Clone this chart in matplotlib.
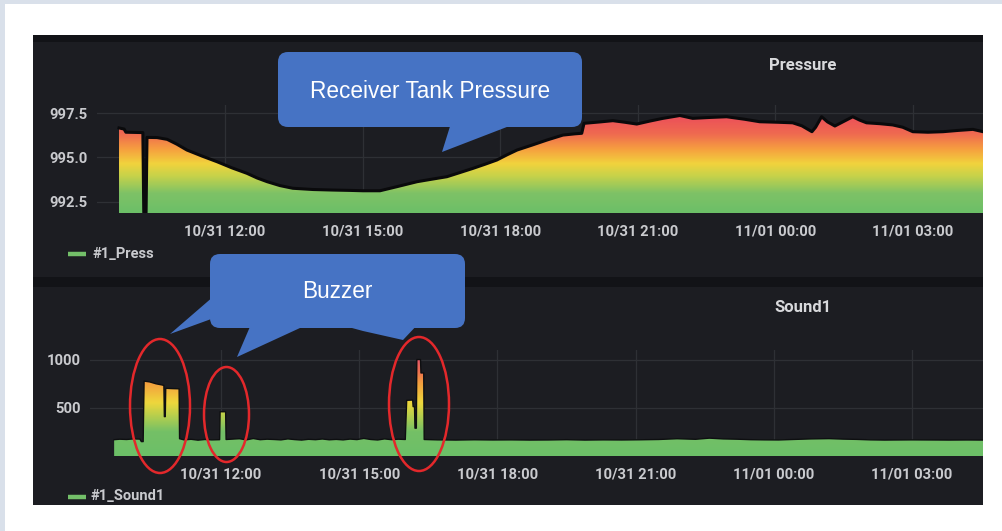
import numpy as np
import matplotlib
matplotlib.use("Agg")
import matplotlib.pyplot as plt
from matplotlib.colors import LinearSegmentedColormap, Normalize
from matplotlib.patches import FancyBboxPatch, Polygon, Ellipse, Rectangle

W, H = 1002, 531

# ---- data: hours since 10/31 00:00 ----
press_hours = [9.69, 9.80, 9.84, 10.21, 10.23, 10.28, 10.30, 10.52, 10.74, 10.95,
               11.17, 11.50, 11.83, 12.15, 12.48, 12.70, 12.92, 13.20, 13.48, 13.92,
               14.35, 14.73, 15.01, 15.38, 15.75, 15.97, 16.19, 16.51, 16.84, 17.12,
               17.41, 17.67, 17.93, 18.15, 18.37, 18.70, 19.02, 19.37, 19.63, 19.78,
               19.83, 20.18, 20.46, 20.72, 20.98, 21.27, 21.55, 21.92, 22.20, 22.57,
               22.94, 23.33, 23.66, 24.06, 24.38, 24.58, 24.80, 24.88, 25.01, 25.14,
               25.30, 25.51, 25.69, 25.84, 25.99, 26.28, 26.56, 26.78, 27.00, 27.33,
               27.66, 27.98, 28.31, 28.53]
press_values = [996.66, 996.60, 996.42, 996.40, 991.90, 991.90, 996.13, 996.12, 996.02, 995.75,
                995.42, 995.08, 994.76, 994.42, 994.11, 993.85, 993.64, 993.42, 993.27, 993.20,
                993.17, 993.15, 993.13, 993.13, 993.36, 993.50, 993.64, 993.78, 993.92, 994.15,
                994.39, 994.62, 994.86, 995.15, 995.42, 995.70, 995.98, 996.26, 996.33, 996.36,
                996.92, 997.00, 997.07, 996.98, 996.88, 997.05, 997.20, 997.36, 997.20, 997.25,
                997.29, 997.15, 997.01, 996.98, 996.95, 996.78, 996.45, 996.70, 997.29, 997.00,
                996.77, 997.05, 997.29, 997.10, 996.95, 996.90, 996.83, 996.70, 996.45, 996.42,
                996.45, 996.52, 996.58, 996.45]

sound_hours = [9.68, 9.80, 9.95, 10.10, 10.24, 10.27, 10.31, 10.33, 10.45, 10.59,
               10.72, 10.76, 10.77, 10.79, 10.80, 10.95, 11.09, 11.10, 11.20, 11.35,
               11.50, 11.65, 11.80, 11.97, 11.98, 12.10, 12.11, 12.25, 12.40, 12.55,
               12.70, 12.85, 13.00, 13.15, 13.30, 13.45, 13.60, 13.75, 13.90, 14.05,
               14.20, 14.35, 14.50, 14.65, 14.80, 14.95, 15.10, 15.25, 15.40, 15.55,
               15.70, 15.85, 16.00, 16.03, 16.16, 16.17, 16.20, 16.21, 16.24, 16.25,
               16.33, 16.34, 16.40, 16.41, 16.70, 17.10, 17.50, 17.90, 18.30, 18.70,
               19.10, 19.50, 19.90, 20.30, 20.70, 21.10, 21.50, 21.90, 22.30, 22.60,
               22.90, 23.20, 23.50, 23.80, 24.10, 24.40, 24.80, 25.20, 25.50, 25.80,
               26.10, 26.40, 26.70, 27.00, 27.40, 27.80, 28.20, 28.54]
sound_values = [170, 175, 172, 178, 176, 150, 150, 780, 772, 752,
                740, 735, 410, 410, 705, 702, 700, 180, 168, 174,
                165, 172, 168, 170, 461, 461, 172, 176, 180, 168,
                182, 170, 175, 172, 168, 178, 171, 166, 174, 170,
                177, 169, 173, 168, 176, 171, 183, 172, 167, 178,
                170, 175, 172, 580, 583, 514, 514, 290, 290, 1005,
                1005, 865, 865, 172, 168, 166, 169, 167, 168, 166,
                167, 170, 166, 168, 167, 169, 172, 180, 174, 186,
                178, 175, 170, 168, 167, 172, 178, 181, 176, 173,
                168, 166, 167, 168, 167, 166, 167, 166]

tick_hours = [12, 15, 18, 21, 24, 27]
tick_labels = ["10/31 12:00", "10/31 15:00", "10/31 18:00",
               "10/31 21:00", "11/01 00:00", "11/01 03:00"]
press_ticks = [992.5, 995.0, 997.5]
press_tick_labels = ["992.5", "995.0", "997.5"]
sound_ticks = [500, 1000]
sound_tick_labels = ["500", "1000"]

# ---- styling ----
PANEL = "#1c1d22"
STRIP = "#121317"
GRID = "#2e3035"
TXT = "#c9cace"
GREEN = "#73bf69"
BLUE = "#4673c4"
RED = "#e3282b"
FONT = "Roboto"

press_cmap = LinearSegmentedColormap.from_list("press", [
    (0.00, "#6cbf68"), (0.20, "#7ec266"), (0.38, "#c6d24a"), (0.51, "#f1d33d"),
    (0.66, "#f6a03f"), (0.82, "#ef6a50"), (1.00, "#ec5059")])
sound_cmap = LinearSegmentedColormap.from_list("sound", [
    (0.00, "#6cbf68"), (0.25, "#74c066"), (0.42, "#b9cf4c"), (0.55, "#eed73c"),
    (0.75, "#f3a03e"), (0.88, "#ee6f52"), (1.00, "#e8586a")])

fig = plt.figure(figsize=(W / 100, H / 100), dpi=100, facecolor="white")


def px_rect(x0, y0, x1, y1):
    return [x0 / W, 1 - y1 / H, (x1 - x0) / W, (y1 - y0) / H]


# background layer in pixel coordinates
bg = fig.add_axes([0, 0, 1, 1], zorder=0)
bg.set_xlim(0, W)
bg.set_ylim(H, 0)
bg.axis("off")
bg.add_patch(Rectangle((0, 0), W, 4, color="#d9e0ea", lw=0))
bg.add_patch(Rectangle((0, 0), 5, H, color="#d9e0ea", lw=0))
bg.add_patch(Rectangle((33, 35), 950, 470, color=PANEL, lw=0))
bg.add_patch(Rectangle((33, 35), 950, 7, color=STRIP, lw=0))
bg.add_patch(Rectangle((33, 277), 950, 10, color=STRIP, lw=0))


def gradient_area(ax, x, y, base, top, cmap, vmin, vmax, xlim):
    coll = ax.fill_between(x, y, base, facecolor="none", edgecolor="none")
    path = coll.get_paths()[0]
    grad = np.linspace(base, top, 300).reshape(-1, 1)
    im = ax.imshow(grad, extent=[xlim[0], xlim[1], base, top], origin="lower",
                   aspect="auto", cmap=cmap, norm=Normalize(vmin, vmax),
                   zorder=2, interpolation="bilinear")
    im.set_clip_path(path, transform=ax.transData)


def style_panel(ax, xlim, ylim, yticks, ylabels, ypad):
    ax.set_facecolor("none")
    for s in ax.spines.values():
        s.set_visible(False)
    ax.set_xlim(*xlim)
    ax.set_ylim(*ylim)
    ax.set_xticks(tick_hours)
    ax.set_xticklabels(tick_labels)
    ax.set_yticks(yticks)
    ax.set_yticklabels(ylabels)
    ax.tick_params(axis="both", length=0, colors=TXT, labelsize=10.6)
    ax.tick_params(axis="x", pad=8)
    ax.tick_params(axis="y", pad=ypad)
    for lab in ax.get_xticklabels() + ax.get_yticklabels():
        lab.set_fontfamily(FONT)
        lab.set_fontweight("bold")
    ax.grid(True, color=GRID, lw=0.9, zorder=0)
    ax.set_axisbelow(True)


# ---- Pressure panel ----
p_xlim = (9.21, 28.53)
p_ylim = (991.88, 997.95)
axp = fig.add_axes(px_rect(97, 105, 983, 213), zorder=5)
gradient_area(axp, press_hours, press_values, p_ylim[0], p_ylim[1],
              press_cmap, 991.9, 997.3, p_xlim)
axp.plot(press_hours, press_values, color="#0a0a0c", lw=2.2, zorder=3)
style_panel(axp, p_xlim, p_ylim, press_ticks, press_tick_labels, 7)

# ---- Sound1 panel ----
s_xlim = (9.156, 28.54)
s_ylim = (0, 1104)
axs = fig.add_axes(px_rect(90, 350, 983, 456), zorder=5)
gradient_area(axs, sound_hours, sound_values, s_ylim[0], s_ylim[1],
              sound_cmap, 0, 1010, s_xlim)
axs.plot(sound_hours, sound_values, color="#0e0f11", lw=1.0, zorder=3)
style_panel(axs, s_xlim, s_ylim, sound_ticks, sound_tick_labels, 7)

# ---- foreground: titles, legends, callouts ----
fg = fig.add_axes([0, 0, 1, 1], zorder=10)
fg.set_xlim(0, W)
fg.set_ylim(H, 0)
fg.axis("off")
fg.patch.set_alpha(0)

fg.text(803, 65, "Pressure", color="#d8d9dc", fontsize=12, fontweight="bold",
        family=FONT, ha="center", va="center")
fg.text(803, 308, "Sound1", color="#d8d9dc", fontsize=12, fontweight="bold",
        family=FONT, ha="center", va="center")

fg.plot([68, 86], [254, 254], color=GREEN, lw=3.2, solid_capstyle="butt")
fg.text(93, 254, "#1_Press", color=TXT, fontsize=10.5, fontweight="bold",
        family=FONT, ha="left", va="center")
fg.plot([68, 86], [497, 497], color=GREEN, lw=3.2, solid_capstyle="butt")
fg.text(91, 496, "#1_Sound1", color=TXT, fontsize=10.5, fontweight="bold",
        family=FONT, ha="left", va="center")

# callout: Receiver Tank Pressure
fg.add_patch(FancyBboxPatch((278, 52), 304, 75,
                            boxstyle="round,pad=0,rounding_size=10",
                            fc=BLUE, ec="none"))
fg.add_patch(Polygon([(452, 120), (442, 152), (525, 120)], closed=True,
                     fc=BLUE, ec="none"))
fg.text(430, 91, "Receiver Tank Pressure", color="white", fontsize=16.3,
        family="Liberation Sans", ha="center", va="center")

# callout: Buzzer
fg.add_patch(FancyBboxPatch((210, 254), 255, 74,
                            boxstyle="round,pad=0,rounding_size=10",
                            fc=BLUE, ec="none"))
fg.add_patch(Polygon([(214, 296), (170, 334), (214, 318)], closed=True,
                     fc=BLUE, ec="none"))
fg.add_patch(Polygon([(252, 322), (237, 357), (313, 322)], closed=True,
                     fc=BLUE, ec="none"))
fg.add_patch(Polygon([(330, 322), (363, 331), (403, 340), (420, 322)],
                     closed=True, fc=BLUE, ec="none"))
fg.text(337, 292, "Buzzer", color="white", fontsize=16.3,
        family="Liberation Sans", ha="center", va="center")

# red ellipses around the buzzer events
for (cx, cy, w, h) in [(160, 406, 60, 134), (226.5, 414.5, 45, 95), (419, 404, 60, 134)]:
    fg.add_patch(Ellipse((cx, cy), w, h, fc="none", ec=RED, lw=1.8))

fig.savefig("out.png", dpi=100, facecolor="white")
